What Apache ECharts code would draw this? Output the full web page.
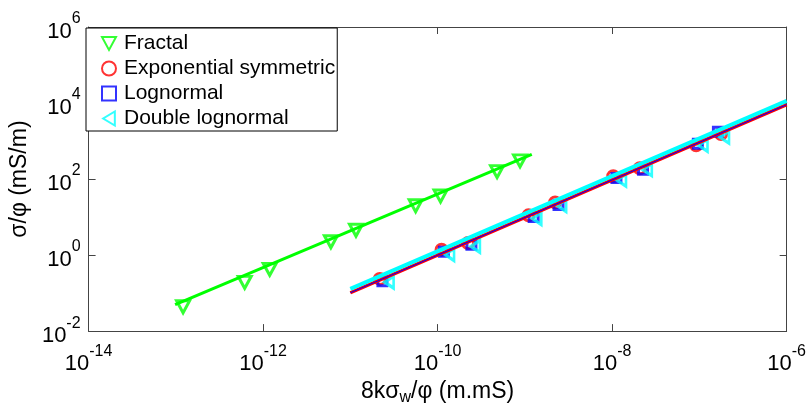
<!DOCTYPE html>
<html>
<head>
<meta charset="utf-8">
<script src="https://cdn.jsdelivr.net/npm/echarts@6/dist/echarts.min.js"></script>
<style>
  html, body { margin: 0; padding: 0; background: #fff; }
  #main { width: 809px; height: 411px; }
</style>
</head>
<body>
<div id="main"></div>
<script>
// Measured points: 8kσw/φ (m.mS) against σ/φ (mS/m)
const fractalX = [1.21e-13, 6.15e-13, 1.19e-12, 5.98e-12, 1.16e-11, 5.6e-11, 1.08e-10, 4.8e-10, 8.8e-10];
const fractalY = [0.0436, 0.192, 0.42, 2.25, 4.5, 19.8, 35.7, 157, 301];

const expX = [2.17e-11, 1.11e-10, 2.23e-10, 1.10e-9, 2.22e-9, 1.03e-8, 2.07e-8, 9.18e-8, 1.77e-7];
const expY = [0.236, 1.39, 2.07, 11.1, 24.3, 118, 193, 771, 1530];

const lognX = [2.33e-11, 1.18e-10, 2.44e-10, 1.26e-9, 2.43e-9, 1.12e-8, 2.26e-8, 9.6e-8, 1.63e-7];
const lognY = [0.206, 1.22, 1.87, 10.0, 20.8, 107, 175, 847, 1766];

const dblX = [2.78e-11, 1.37e-10, 2.71e-10, 1.37e-9, 2.64e-9, 1.28e-8, 2.53e-8, 1.10e-7, 1.94e-7];
const dblY = [0.194, 1.03, 1.69, 9.1, 20.0, 93, 175, 771, 1259];

// Model curves (end points of the straight log-log lines)
const fractalFitX = [9.8e-14, 1.2e-9];
const fractalFitY = [0.05, 447];
const expFitX = [1e-11, 1e-6];
const expFitY = [0.102, 9040];
const lognFitX = [1e-11, 1e-6];
const lognFitY = [0.102, 9040];
const dblFitX = [1e-11, 1e-6];
const dblFitY = [0.129, 11450];

// Axis ranges and tick exponents
const xRange = [1e-14, 1e-6];
const yRange = [1e-2, 1e6];
const tickStep = 2; // decades between labelled ticks

const seriesNames = ['Fractal', 'Exponential symmetric', 'Lognormal', 'Double lognormal'];

const FONT = "'Liberation Sans', Arial, sans-serif";
const AXIS_COLOR = '#444';

// Marker outlines
const TRI_DOWN = 'path://M0,0L12,0L6,11Z';
const TRI_LEFT = 'path://M10,0L10,12L0,6Z';

const zip = (xs, ys) => xs.map((x, i) => [x, ys[i]]);

const powRich = {
  b: { fontFamily: FONT, fontSize: 22, color: '#000', lineHeight: 32, verticalAlign: 'bottom' },
  e: { fontFamily: FONT, fontSize: 16, color: '#000', lineHeight: 16, verticalAlign: 'top' }
};
const powLabel = v => '{b|10}{e|' + Math.round(Math.log10(v)) + '}';

function mainAxis(range, pos, withLabels, margin, extra) {
  return Object.assign({
    type: 'log',
    logBase: 10,
    min: range[0],
    max: range[1],
    interval: tickStep,
    position: pos,
    axisLine: { show: true, lineStyle: { color: AXIS_COLOR, width: 1 } },
    axisTick: { show: true, inside: true, length: 7, lineStyle: { color: AXIS_COLOR } },
    minorTick: { show: false },
    splitLine: { show: false },
    axisLabel: withLabels
      ? { show: true, formatter: powLabel, rich: powRich, margin: margin }
      : { show: false }
  }, extra || {});
}

function markerSeries(name, xs, ys, symbol, size, color, bw) {
  return {
    name: name,
    type: 'scatter',
    data: zip(xs, ys),
    symbol: symbol,
    symbolSize: size,
    itemStyle: { color: 'rgba(0,0,0,0)', borderColor: color, borderWidth: bw },
    silent: true,
    z: 2
  };
}

function lineSeries(name, xs, ys, color, width) {
  return {
    name: name,
    type: 'line',
    data: zip(xs, ys),
    symbol: 'none',
    lineStyle: { color: color, width: width },
    silent: true,
    z: 3
  };
}

const option = {
  animation: false,
  backgroundColor: '#fff',
  grid: { left: 85, right: 22, top: 27, bottom: 72, containLabel: false },
  legend: {
    data: seriesNames,
    orient: 'vertical',
    left: 86,
    top: 28,
    backgroundColor: '#fff',
    borderColor: '#000',
    borderWidth: 1,
    borderRadius: 0,
    padding: [5, 2, 2, 15],
    itemGap: 4,
    itemWidth: 14,
    itemHeight: 14,
    textStyle: { fontFamily: FONT, fontSize: 21, color: '#000', padding: [0, 0, 0, 3] },
    selectedMode: false,
    z: 10
  },
  xAxis: [
    mainAxis(xRange, 'bottom', true, 12, {
      name: '{n|8kσ}{w|w}{n|/φ (m.mS)}',
      nameLocation: 'middle',
      nameGap: 45,
      nameTextStyle: {
        rich: {
          n: { fontFamily: FONT, fontSize: 23, color: '#000', lineHeight: 26, verticalAlign: 'top' },
          w: { fontFamily: FONT, fontSize: 16, color: '#000', lineHeight: 16, verticalAlign: 'bottom', padding: [10, 0, 0, 0] }
        }
      }
    }),
    mainAxis(xRange, 'top', false, 0)
  ],
  yAxis: [
    mainAxis(yRange, 'left', true, 8, {
      name: 'σ/φ (mS/m)',
      nameLocation: 'middle',
      nameGap: 37,
      nameTextStyle: { fontFamily: FONT, fontSize: 23, color: '#000' }
    }),
    mainAxis(yRange, 'right', false, 0)
  ],
  series: [
    markerSeries(seriesNames[0], fractalX, fractalY, TRI_DOWN, [13, 12], '#00ff00', 3),
    markerSeries(seriesNames[1], expX, expY, 'circle', 11, '#ff0000', 3),
    markerSeries(seriesNames[2], lognX, lognY, 'rect', 9, '#0000ff', 3),
    markerSeries(seriesNames[3], dblX, dblY, TRI_LEFT, [9, 12], '#00ffff', 3),
    lineSeries('Fractal model', fractalFitX, fractalFitY, '#00ff00', 3),
    lineSeries('Exponential symmetric model', expFitX, expFitY, '#ff0000', 3.5),
    lineSeries('Lognormal model', lognFitX, lognFitY, '#0000ff', 1),
    lineSeries('Double lognormal model', dblFitX, dblFitY, '#00ffff', 4)
  ]
};

const chart = echarts.init(document.getElementById('main'), null, { renderer: 'canvas' });
chart.setOption(option);
</script>
</body>
</html>
